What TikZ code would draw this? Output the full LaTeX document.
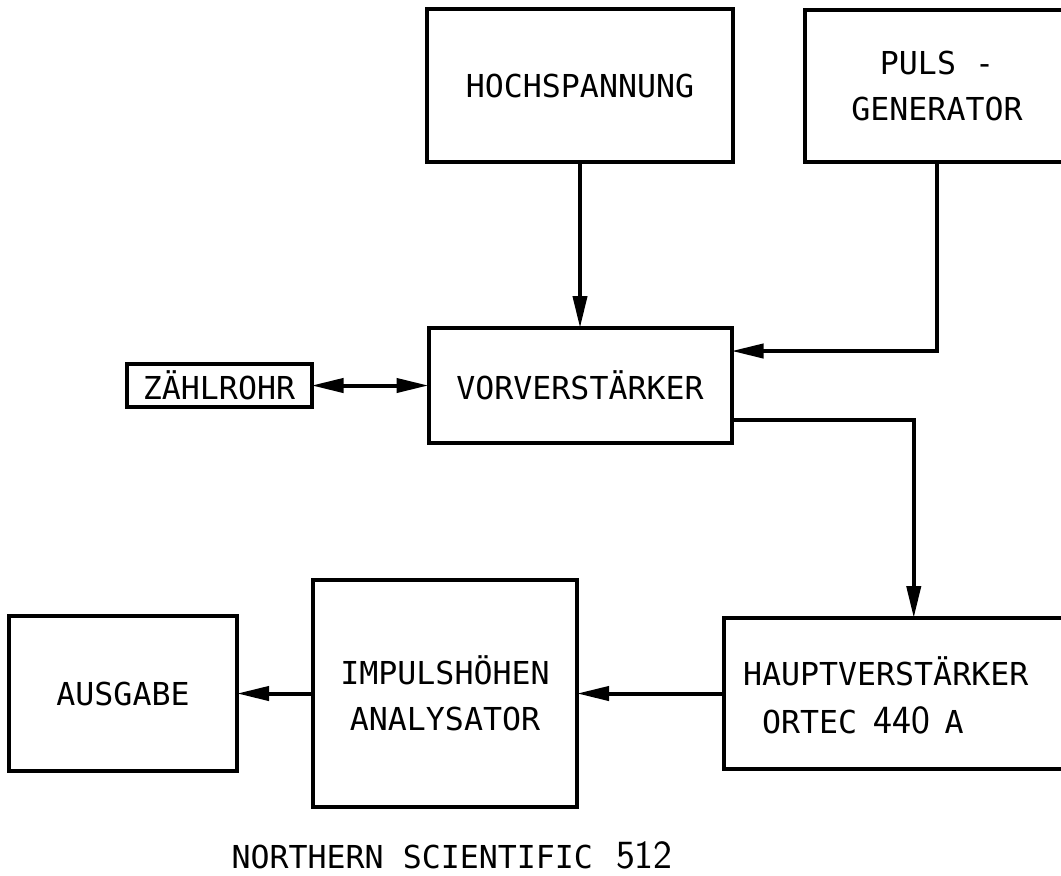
\documentclass[tikz,border=0pt]{standalone}
\usepackage{fontspec}
\usepackage{tikz}
\usetikzlibrary{arrows.meta,positioning,calc}
\newfontfamily\plotter{DejaVu Sans Mono}
\newcommand{\dgt}[1]{{\fontsize{20}{24}\sffamily #1}}

\begin{document}
\begin{tikzpicture}[x=0.5pt, y=-0.5pt,
  blk/.style={draw, line width=2pt, align=center, inner sep=0pt, outer sep=0pt,
              font=\fontsize{15.8}{23}\plotter},
  lbl/.style={font=\fontsize{15.8}{23}\plotter},
  arr/.style={-{Triangle[length=16pt,width=7pt]}, line width=2pt},
  dbl/.style={{Triangle[length=16pt,width=7pt]}-{Triangle[length=16pt,width=7pt]}, line width=2pt}]

\useasboundingbox (0,0) rectangle (1061,875);
\clip (0,0) rectangle (1061,875);

\node[blk, minimum width=153pt, minimum height=76.5pt] (hoch) at (580,85.5) {HOCHSPANNUNG};
\node[blk, minimum width=132pt, minimum height=76pt, right=36pt of hoch] (puls) {PULS -\\GENERATOR};
\node[blk, minimum width=151.5pt, minimum height=57.5pt, below=83pt of hoch] (vorv) {VORVERSTÄRKER};
\node[blk, minimum width=92.5pt, minimum height=21.5pt, left=58.5pt of vorv] (zahl) {ZÄHLROHR};
\node[blk, minimum width=172.5pt, minimum height=75.5pt, align=left, text width=153.5pt,
      inner xsep=9.5pt, font=\fontsize{15.8}{24}\plotter] (haupt) at (896.5,693.5)
      {\rule{0pt}{16pt}HAUPTVERSTÄRKER\\\hspace*{9.5pt}ORTEC~\hspace{3pt}\dgt{440}~\hspace{2pt}A};
\node[blk, minimum width=132pt, minimum height=113.5pt, left=73.5pt of haupt] (imp) {IMPULSHÖHEN\\ANALYSATOR};
\node[blk, minimum width=114pt, minimum height=77.5pt, left=38pt of imp] (ausg) {AUSGABE};
\node[lbl] (nsci) at (452,855) {NORTHERN SCIENTIFIC~\hspace{2pt}\dgt{512}};

% Verbindungen
\coordinate (vin) at ($(vorv.north east)!0.2!(vorv.south east)$);
\coordinate (vout) at ($(vorv.north east)!0.8!(vorv.south east)$);
\coordinate (hin) at ($(haupt.north west)!0.55!(haupt.north east)$);

\draw[arr] (hoch.south) -- (hoch.south |- vorv.north);
\draw[arr] (puls.south) |- (vin);
\draw[dbl] (zahl.east) -- (vorv.west);
\draw[arr] (vout) -| (hin);
\draw[arr] (haupt.west) -- (imp.east);
\draw[arr] (imp.west) -- (ausg.east);
\end{tikzpicture}
\end{document}
